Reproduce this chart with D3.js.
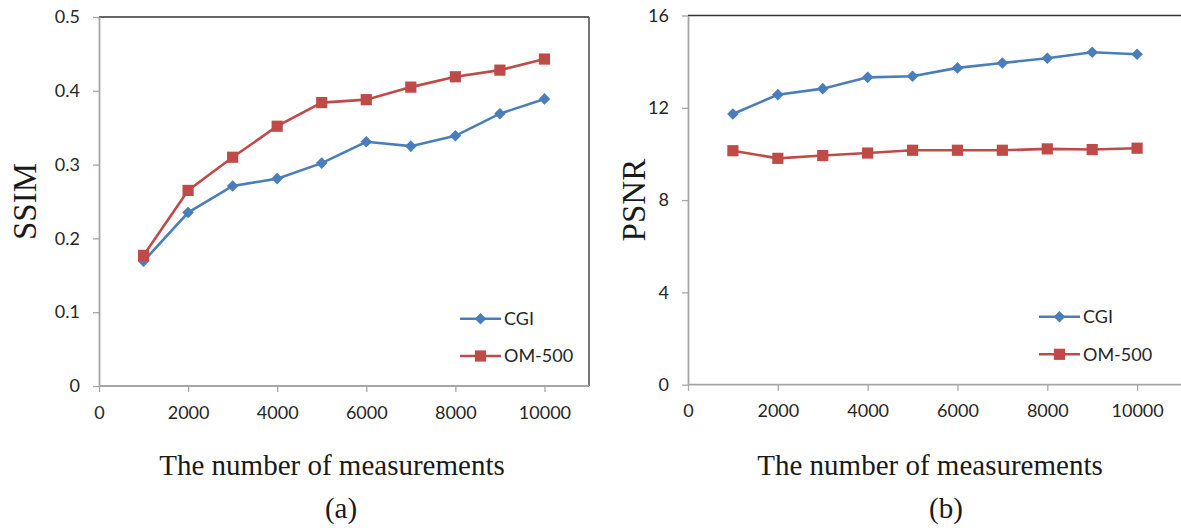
<!DOCTYPE html>
<html>
<head>
<meta charset="utf-8">
<script src="https://cdn.jsdelivr.net/npm/d3@7"></script>
<style>
  body { margin: 0; background: #fff; }
  svg { display: block; }
</style>
</head>
<body>
<div id="chart"></div>
<script>
// Data
const measurements = [1000, 2000, 3000, 4000, 5000, 6000, 7000, 8000, 9000, 10000];
const ssimCGI  = [0.169, 0.235, 0.271, 0.281, 0.302, 0.331, 0.325, 0.339, 0.369, 0.389];
const ssimOM   = [0.177, 0.265, 0.310, 0.352, 0.384, 0.388, 0.405, 0.419, 0.428, 0.443];
const psnrCGI  = [11.73, 12.57, 12.83, 13.32, 13.37, 13.73, 13.94, 14.15, 14.41, 14.32];
const psnrOM   = [10.14, 9.81, 9.93, 10.04, 10.16, 10.16, 10.16, 10.22, 10.19, 10.25];
const xTicks    = [0, 2000, 4000, 6000, 8000, 10000];
const ssimTicks = [0, 0.1, 0.2, 0.3, 0.4, 0.5];
const psnrTicks = [0, 4, 8, 12, 16];
const seriesNames = ["CGI", "OM-500"];
const xTitle = "The number of measurements";

const width = 1181;
const height = 528;
const blue = "#4a7ebb";
const red = "#be4b48";
const tickFont = "Lato, 'Open Sans', sans-serif";
const serif = "'Liberation Serif', 'Times New Roman', serif";

const svg = d3.select("#chart")
    .append("svg")
    .attr("width", width)
    .attr("height", height);

// diamond / square marker paths
function diamond(r) {
    return `M0,${-r}L${r},0L0,${r}L${-r},0Z`;
}
function square(s) {
    return `M${-s},${-s}H${s}V${s}H${-s}Z`;
}

function drawPanel(p) {
    const x = d3.scaleLinear().domain([0, 11000]).range([p.left, p.right]);
    const y = d3.scaleLinear().domain(p.yDomain).range([p.bottom, p.top]);
    const g = svg.append("g");

    // top and right frame lines
    g.append("line")
        .attr("x1", p.left).attr("x2", p.frameRight)
        .attr("y1", p.top).attr("y2", p.top)
        .attr("stroke", "#333").attr("stroke-width", 1.6);
    if (p.showRight) {
        g.append("line")
            .attr("x1", p.right).attr("x2", p.right)
            .attr("y1", p.top).attr("y2", p.bottom)
            .attr("stroke", "#555").attr("stroke-width", 1.6);
    }

    // y axis
    const yAxis = g.append("g")
        .attr("transform", `translate(${p.left},0)`)
        .call(d3.axisLeft(y).tickValues(p.yTicks).tickFormat(p.yFormat)
            .tickSize(6).tickSizeOuter(0).tickPadding(13));
    // x axis
    const xAxis = g.append("g")
        .attr("transform", `translate(0,${p.bottom})`)
        .call(d3.axisBottom(x).tickValues(xTicks).tickFormat(d3.format("d"))
            .tickSize(6).tickSizeOuter(0).tickPadding(14));

    [yAxis, xAxis].forEach(a => {
        a.select(".domain").attr("stroke", "#a6a6a6").attr("stroke-width", 1.8);
        a.selectAll(".tick line").attr("stroke", "#a6a6a6").attr("stroke-width", 1.3);
        a.selectAll("text")
            .attr("fill", "#262626")
            .style("font-family", tickFont)
            .style("font-size", "18px");
    });
    // stretch the bottom axis line to the frame edge
    xAxis.select(".domain").attr("d", `M${p.left},0H${p.frameRight}`);

    const line = d3.line()
        .x((d, i) => x(measurements[i]))
        .y(d => y(d));

    const series = [
        { values: p.cgi, color: blue, marker: diamond(5.8) },
        { values: p.om, color: red, marker: square(5.6) }
    ];

    series.forEach(s => {
        g.append("path")
            .datum(s.values)
            .attr("d", line)
            .attr("fill", "none")
            .attr("stroke", s.color)
            .attr("stroke-width", 2.6);
        g.selectAll(null)
            .data(s.values)
            .enter()
            .append("path")
            .attr("d", s.marker)
            .attr("transform", (d, i) => `translate(${x(measurements[i])},${y(d)})`)
            .attr("fill", s.color);
    });

    // legend
    series.forEach((s, i) => {
        const ly = p.legendY[i];
        g.append("line")
            .attr("x1", p.legendX).attr("x2", p.legendX + 41)
            .attr("y1", ly).attr("y2", ly)
            .attr("stroke", s.color).attr("stroke-width", 2.6);
        g.append("path")
            .attr("d", s.marker)
            .attr("transform", `translate(${p.legendX + 20.5},${ly})`)
            .attr("fill", s.color);
        g.append("text")
            .attr("x", p.legendX + 44)
            .attr("y", ly)
            .attr("dy", "0.35em")
            .text(seriesNames[i])
            .style("font-family", tickFont)
            .style("font-size", "18px")
            .attr("fill", "#262626");
    });

    // y title
    g.append("text")
        .attr("transform", `translate(${p.yTitleX},${(p.top + p.bottom) / 2}) rotate(-90)`)
        .attr("text-anchor", "middle")
        .attr("dy", "0.35em")
        .text(p.yTitle)
        .style("font-family", serif)
        .style("font-size", "33px")
        .attr("fill", "#1a1a1a");

    // x title and panel label
    g.append("text")
        .attr("x", p.xTitleX)
        .attr("y", 475)
        .attr("text-anchor", "middle")
        .text(xTitle)
        .style("font-family", serif)
        .style("font-size", "29px")
        .attr("fill", "#1a1a1a");
    g.append("text")
        .attr("x", p.labelX)
        .attr("y", 518)
        .attr("text-anchor", "middle")
        .text(p.label)
        .style("font-family", serif)
        .style("font-size", "29px")
        .attr("fill", "#1a1a1a");
}

drawPanel({
    left: 99, right: 589, top: 17, bottom: 386, frameRight: 589, showRight: true,
    yDomain: [0, 0.5], yTicks: ssimTicks, yFormat: d => d === 0 ? "0" : d3.format(".1f")(d),
    cgi: ssimCGI, om: ssimOM,
    legendX: 460, legendY: [318.7, 356],
    yTitle: "SSIM", yTitleX: 24,
    xTitleX: 332, label: "(a)", labelX: 341
});

drawPanel({
    left: 688, right: 1182, top: 15.5, bottom: 384.7, frameRight: 1181, showRight: false,
    yDomain: [0, 16], yTicks: psnrTicks, yFormat: d3.format("d"),
    cgi: psnrCGI, om: psnrOM,
    legendX: 1039, legendY: [316.7, 354.3],
    yTitle: "PSNR", yTitleX: 633,
    xTitleX: 930, label: "(b)", labelX: 946
});
</script>
</body>
</html>
